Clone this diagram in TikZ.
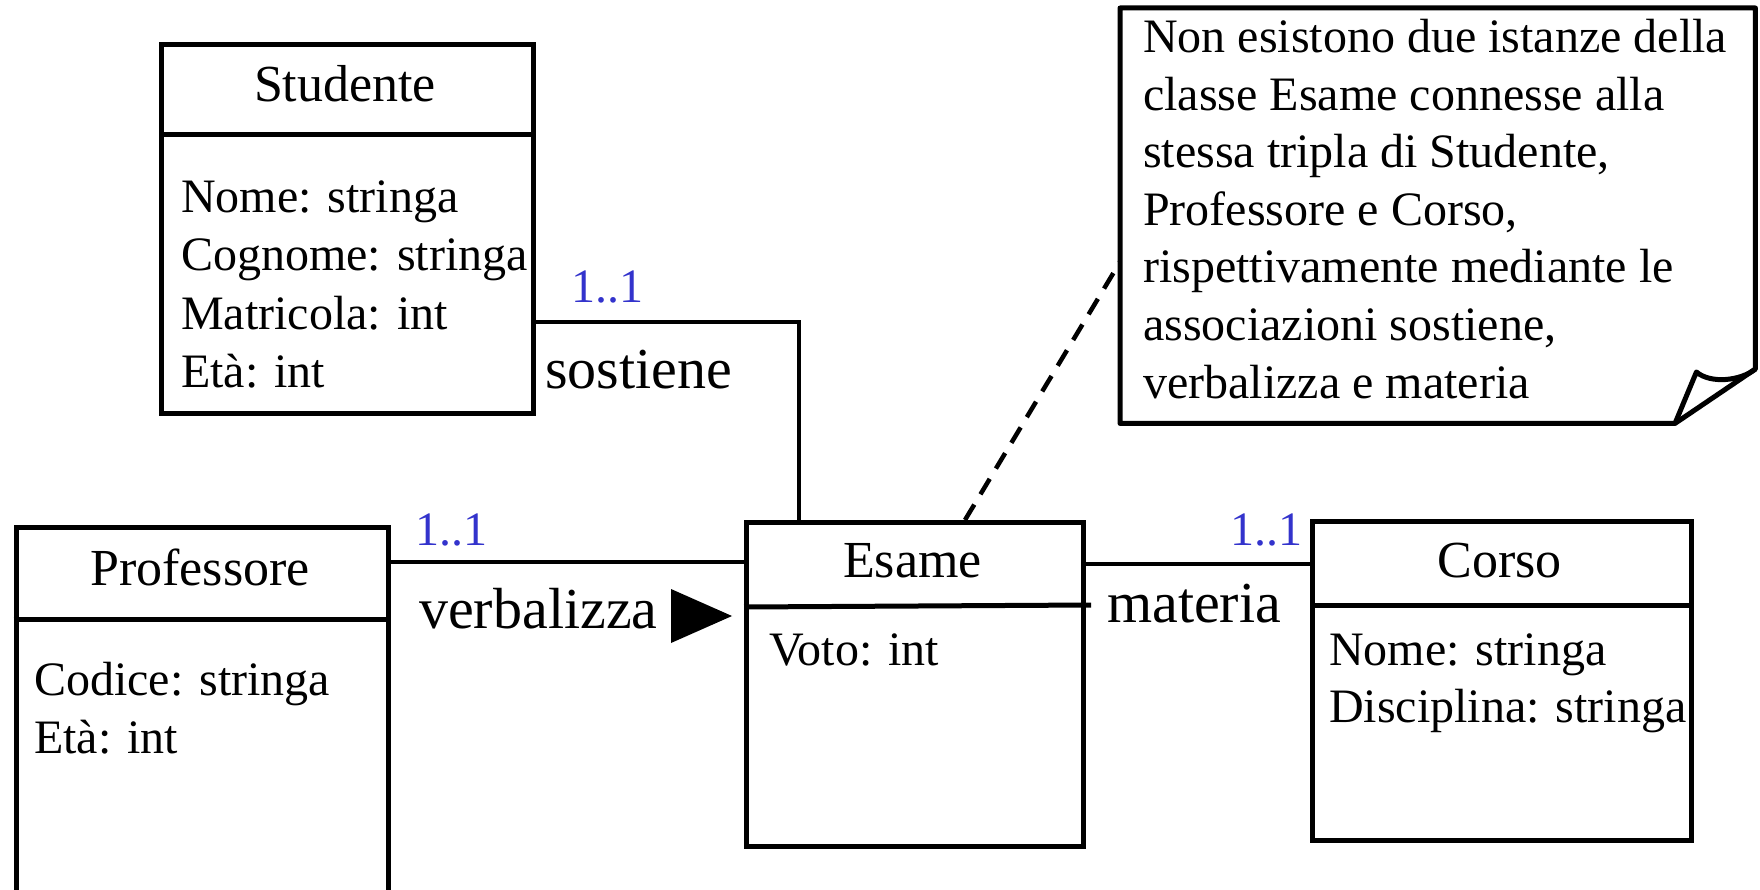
\documentclass[tikz,border=0pt]{standalone}
\usepackage{fontspec}
\setmainfont{Liberation Serif}
\usetikzlibrary{calc}
\definecolor{multblue}{RGB}{51,51,204}
\begin{document}
\begin{tikzpicture}[x=1pt,y=-1pt,
  box/.style={draw, line width=5pt, inner sep=0pt, anchor=north west},
  sepline/.style={line width=5pt},
  cname/.style={anchor=base, inner sep=0pt, font=\fontsize{52}{60}\selectfont},
  attr/.style={anchor=base west, inner sep=0pt, font=\fontsize{48}{57.5}\selectfont},
  assoc/.style={anchor=base west, inner sep=0pt, font=\fontsize{58}{68}\selectfont},
  mult/.style={anchor=base, inner sep=0pt, text=multblue, font=\fontsize{48}{57.5}\selectfont},
  conn/.style={line width=4.5pt},
  notetext/.style={anchor=base west, inner sep=0pt, font=\fontsize{48}{57.5}\selectfont},
]
\useasboundingbox (0,0) rectangle (1760,890);
\clip (0,0) rectangle (1760,890);

% Studente
\node[box, minimum width=372pt, minimum height=369pt] (stud) at (159,42) {};
\draw[sepline] ($(stud.north west)+(0,93)$) -- ($(stud.north east)+(0,93)$);
\node[cname] (studN) at (345,102) {Studente};
\node[attr] (stud1) at (181,213) {Nome: stringa};
\node[attr] (stud2) at (181,271) {Cognome: stringa};
\node[attr] (stud3) at (181,329) {Matricola: int};
\node[attr] (stud4) at (181,387) {Età: int};

% Professore
\node[box, minimum width=372.5pt, minimum height=380pt] (prof) at (13.5,525) {};
\draw[sepline] ($(prof.north west)+(0,94)$) -- ($(prof.north east)+(0,94)$);
\node[cname] (profN) at (200,585) {Professore};
\node[attr] (prof1) at (34,695) {Codice: stringa};
\node[attr] (prof2) at (34,753) {Età: int};

% Esame
\node[box, minimum width=337pt, minimum height=324pt] (esame) at (744,520) {};
\draw[sepline] ($(esame.north west)+(0,87)$) -- ($(esame.north east)+(5,85)$);
\node[cname] (esameN) at (912.5,577) {Esame};
\node[attr] (esame1) at (769,665) {Voto: int};

% Corso
\node[box, minimum width=379pt, minimum height=319pt] (corso) at (1310,519) {};
\draw[sepline] ($(corso.north west)+(0,86)$) -- ($(corso.north east)+(0,86)$);
\node[cname] (corsoN) at (1499.5,577) {Corso};
\node[attr] (corso1) at (1329,665) {Nome: stringa};
\node[attr] (corso2) at (1329,722) {Disciplina: stringa};

% Note
\node[inner sep=0pt, minimum width=635pt, minimum height=415pt, anchor=north west] (note) at (1120,8) {};
\draw[line width=5pt, line join=round]
  (note.north west) -- (note.north east) -- ($(note.north east)+(0,361)$)
  -- ($(note.south west)+(555,0)$) -- (note.south west) -- cycle;
\draw[line width=5pt, line join=round]
  ($(note.south west)+(555,0)$) -- ($(note.north east)+(-59,364)$)
  .. controls ($(note.north east)+(-45,376)$) and ($(note.north east)+(-15,373)$) .. ($(note.north east)+(0,361)$);
\node[notetext] (n1) at (1143,53) {Non esistono due istanze della};
\node[notetext] (n2) at (1143,110.5) {classe Esame connesse alla};
\node[notetext] (n3) at (1143,168) {stessa tripla di Studente,};
\node[notetext] (n4) at (1143,225.5) {Professore e Corso,};
\node[notetext] (n5) at (1143,283) {rispettivamente mediante le};
\node[notetext] (n6) at (1143,340.5) {associazioni sostiene,};
\node[notetext] (n7) at (1143,398) {verbalizza e materia};

% Connectors
\draw[conn] ($(stud.north east)+(0,280)$) -| ($(esame.north west)+(55,0)$);
\coordinate (vb) at ($(prof.north east)+(0,37)$);
\draw[conn] (vb) -- (vb -| esame.west);
\coordinate (ma) at ($(esame.north east)+(0,44)$);
\draw[conn] (ma) -- (ma -| corso.west);
\draw[conn, dash pattern=on 18pt off 12pt] ($(esame.north west)+(221,0)$) -- ($(note.north west)+(0,254)$);

% Labels
\node[mult] (m1) at (607,302) {1..1};
\node[assoc] (l1) at (545,388) {sostiene};
\node[mult] (m2) at (451,545) {1..1};
\node[assoc] (l2) at (419,628) {verbalizza};
\fill (671,589) -- (732,616) -- (671,643) -- cycle;
\node[mult] (m3) at (1266,545) {1..1};
\node[assoc] (l3) at (1107,622) {materia};
\end{tikzpicture}
\end{document}
